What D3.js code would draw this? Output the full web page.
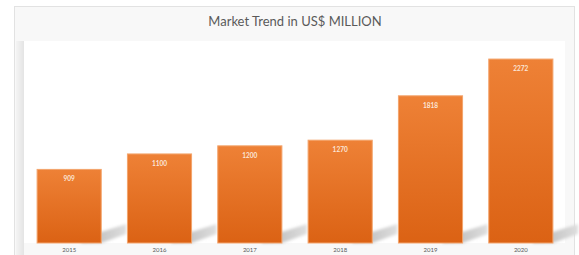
<!DOCTYPE html>
<html>
<head>
<meta charset="utf-8">
<script src="https://d3js.org/d3.v7.min.js"></script>
<style>
  body { margin: 0; background: #fff; }
  svg { display: block; font-family: Lato, "Open Sans", sans-serif; }
</style>
</head>
<body>
<div id="chart"></div>
<script>
// Chart data
const years = ["2015", "2016", "2017", "2018", "2019", "2020"];
const values = [909, 1100, 1200, 1270, 1818, 2272];
const chartTitle = "Market Trend in US$ MILLION";

const W = 579, H = 255;

const svg = d3.select("#chart").append("svg")
  .attr("width", W)
  .attr("height", H);

const defs = svg.append("defs");

// bar gradient
const barGrad = defs.append("linearGradient")
  .attr("id", "barGrad")
  .attr("x1", 0).attr("y1", 0).attr("x2", 0).attr("y2", 1);
barGrad.append("stop").attr("offset", "0%").attr("stop-color", "#ee8136");
barGrad.append("stop").attr("offset", "100%").attr("stop-color", "#db6214");

// shadow gradient
const shGrad = defs.append("linearGradient")
  .attr("id", "shGrad")
  .attr("x1", 0).attr("y1", 0).attr("x2", 1).attr("y2", 0);
shGrad.append("stop").attr("offset", "0%").attr("stop-color", "#b4b4b4");
shGrad.append("stop").attr("offset", "100%").attr("stop-color", "#dedede");

// left panel edge shading
const edgeGrad = defs.append("linearGradient")
  .attr("id", "edgeGrad")
  .attr("x1", 0).attr("y1", 0).attr("x2", 1).attr("y2", 0);
edgeGrad.append("stop").attr("offset", "0%").attr("stop-color", "#f4f4f4");
edgeGrad.append("stop").attr("offset", "100%").attr("stop-color", "#e4e4e4");

defs.append("filter").attr("id", "blur")
  .attr("x", "-30%").attr("y", "-30%").attr("width", "160%").attr("height", "160%")
  .append("feGaussianBlur").attr("stdDeviation", 1.8);

// outer frame
svg.append("rect")
  .attr("x", 14.5).attr("y", 6.5)
  .attr("width", 560).attr("height", 260)
  .attr("fill", "#f8f8f8")
  .attr("stroke", "#e2e2e2");

// left shaded band
svg.append("rect")
  .attr("x", 16).attr("y", 41)
  .attr("width", 8).attr("height", 214)
  .attr("fill", "url(#edgeGrad)");

// inner plot panel
svg.append("rect")
  .attr("x", 24).attr("y", 41)
  .attr("width", 541).attr("height", 202)
  .attr("fill", "#ffffff");

// title
svg.append("text")
  .attr("x", 295).attr("y", 26)
  .attr("text-anchor", "middle")
  .attr("font-size", 13)
  .attr("fill", "#5a5a5a")
  .text(chartTitle);

// scales
const x = d3.scaleBand()
  .domain(years)
  .range([24, 566])
  .paddingInner(0.29)
  .paddingOuter(0.145);

const y = d3.scaleLinear()
  .domain([0, 2500])
  .range([243, 40.6]);

const base = y(0);

// shadows
svg.append("g")
  .selectAll("path")
  .data(values)
  .join("path")
  .attr("d", (d, i) => {
    const x1 = x(years[i]) + x.bandwidth();
    const x0 = x1 - 20;
    return `M${x0},${base} L${x1},${base} L${x1 + 25},${base - 9} L${x1 + 25},${base - 19} L${x1},${base - 11} L${x0},${base - 10} Z`;
  })
  .attr("fill", "url(#shGrad)")
  .attr("filter", "url(#blur)");

// bars
svg.append("g")
  .selectAll("rect")
  .data(values)
  .join("rect")
  .attr("x", (d, i) => x(years[i]))
  .attr("y", d => y(d))
  .attr("width", x.bandwidth())
  .attr("height", d => base - y(d))
  .attr("fill", "url(#barGrad)")
  .attr("stroke", "#f3a46c")
  .attr("stroke-width", 1);

// value labels
svg.append("g")
  .selectAll("text")
  .data(values)
  .join("text")
  .attr("x", (d, i) => x(years[i]) + x.bandwidth() / 2)
  .attr("y", d => y(d) + 12)
  .attr("text-anchor", "middle")
  .attr("font-size", 6.5)
  .attr("font-weight", "bold")
  .attr("fill", "#fbe6d8")
  .text(d => d);

// x axis
const xAxis = svg.append("g")
  .attr("transform", `translate(0,${base})`)
  .call(d3.axisBottom(x).tickSize(0).tickPadding(5));
xAxis.select(".domain").remove();
xAxis.selectAll("text")
  .attr("font-family", "Lato, 'Open Sans', sans-serif")
  .attr("font-size", 6)
  .attr("fill", "#595959");
</script>
</body>
</html>
